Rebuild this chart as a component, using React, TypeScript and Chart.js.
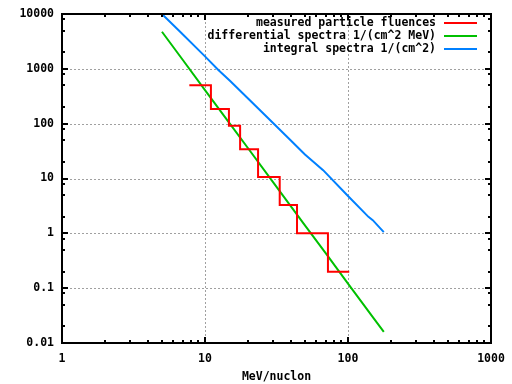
import React, { useEffect, useRef } from 'react';
import { Chart, registerables } from 'chart.js';

Chart.register(...registerables);

// Measured particle fluences (histogram steps): bin left edges, last entry is right edge
const fluenceEnergy = [7.77, 11.0, 14.7, 17.6, 23.5, 33.3, 44.0, 72.4, 102];
const fluenceValues = [500, 185, 92, 34, 10.6, 3.27, 1.0, 0.2, 0.2];

// Differential spectra
const diffEnergy = [5, 7, 10, 15, 20, 30, 40, 50, 70, 100, 150, 178];
const diffValues = [4750, 1450, 410, 98, 35.6, 8.5, 3.08, 1.4, 0.43, 0.121, 0.029, 0.0159];

// Integral spectra
const intEnergy = [5, 6.7, 10, 12.4, 15, 20, 27, 40, 50, 67, 100, 139, 149, 178];
const intValues = [10000, 4750, 1690, 951, 600, 288, 134, 48.8, 27.5, 14.2, 4.8, 2.0, 1.74, 1.05];

const seriesNames = [
  'measured particle fluences',
  'differential spectra 1/(cm^2 MeV)',
  'integral spectra 1/(cm^2)',
];
const seriesColors = ['#ff0000', '#00c000', '#0080ff'];

const xTickValues = [1, 10, 100, 1000];
const xTickLabels = ['1', '10', '100', '1000'];
const yTickValues = [0.01, 0.1, 1, 10, 100, 1000, 10000];
const yTickLabels = ['0.01', '0.1', '1', '10', '100', '1000', '10000'];
const xMinorFactors = [2, 3, 4, 5, 6, 7, 8, 9];
const yMinorFactors = [2, 5, 8];
const xTitle = 'MeV/nuclon';

const FONT_FAMILY = '"DejaVu Sans Mono", "Liberation Mono", monospace';
const FONT_SIZE = 11.5;

const gnuplotPlugin = {
  id: 'gnuplotFrame',
  beforeDatasetsDraw(chart: any) {
    const { ctx, chartArea: a, scales } = chart;
    const x = scales.x;
    const y = scales.y;
    ctx.save();
    ctx.strokeStyle = '#a0a0a0';
    ctx.lineWidth = 1;
    ctx.setLineDash([2, 2]);
    for (const v of xTickValues) {
      const px = Math.round(x.getPixelForValue(v)) + 0.5;
      if (px <= a.left + 2 || px >= a.right - 2) continue;
      ctx.beginPath();
      ctx.moveTo(px, a.top);
      ctx.lineTo(px, a.bottom);
      ctx.stroke();
    }
    for (const v of yTickValues) {
      const py = Math.round(y.getPixelForValue(v)) + 0.5;
      if (py <= a.top + 2 || py >= a.bottom - 2) continue;
      ctx.beginPath();
      ctx.moveTo(a.left, py);
      ctx.lineTo(a.right, py);
      ctx.stroke();
    }
    ctx.restore();
  },
  afterDatasetsDraw(chart: any) {
    const { ctx, chartArea: a, scales } = chart;
    const x = scales.x;
    const y = scales.y;
    ctx.save();
    ctx.setLineDash([]);
    ctx.strokeStyle = '#000';
    ctx.lineWidth = 2;
    ctx.strokeRect(a.left, a.top, a.right - a.left, a.bottom - a.top);

    const major = 6;
    const minor = 3;
    const xTick = (v: number, len: number) => {
      const px = Math.round(x.getPixelForValue(v));
      ctx.beginPath();
      ctx.moveTo(px, a.bottom);
      ctx.lineTo(px, a.bottom - len);
      ctx.moveTo(px, a.top);
      ctx.lineTo(px, a.top + len);
      ctx.stroke();
    };
    const yTick = (v: number, len: number) => {
      const py = Math.round(y.getPixelForValue(v));
      ctx.beginPath();
      ctx.moveTo(a.left, py);
      ctx.lineTo(a.left + len, py);
      ctx.moveTo(a.right, py);
      ctx.lineTo(a.right - len, py);
      ctx.stroke();
    };
    xTickValues.forEach((v, i) => {
      xTick(v, major);
      if (i < xTickValues.length - 1) xMinorFactors.forEach((f) => xTick(v * f, minor));
    });
    yTickValues.forEach((v, i) => {
      yTick(v, major);
      if (i < yTickValues.length - 1) yMinorFactors.forEach((f) => yTick(v * f, minor));
    });

    // key
    ctx.font = `bold ${FONT_SIZE}px ${FONT_FAMILY}`;
    ctx.textAlign = 'right';
    ctx.textBaseline = 'middle';
    ctx.fillStyle = '#000';
    const rows = [23, 35.8, 48.6];
    seriesNames.forEach((name, i) => {
      const ry = rows[i];
      ctx.fillText(name, 436, ry);
      ctx.strokeStyle = seriesColors[i];
      ctx.lineWidth = 2;
      ctx.beginPath();
      ctx.moveTo(444, Math.round(ry));
      ctx.lineTo(477, Math.round(ry));
      ctx.stroke();
    });
    ctx.restore();
  },
};

export default function App() {
  const canvasRef = useRef<HTMLCanvasElement | null>(null);

  useEffect(() => {
    if (!canvasRef.current) return;
    const font = { family: FONT_FAMILY, size: FONT_SIZE, weight: 'bold' as const };
    const chart = new Chart(canvasRef.current, {
      type: 'line',
      data: {
        datasets: [
          {
            label: seriesNames[0],
            data: fluenceEnergy.map((e, i) => ({ x: e, y: fluenceValues[i] })),
            borderColor: seriesColors[0],
            borderWidth: 2,
            stepped: 'before',
            pointRadius: 0,
            fill: false,
          },
          {
            label: seriesNames[1],
            data: diffEnergy.map((e, i) => ({ x: e, y: diffValues[i] })),
            borderColor: seriesColors[1],
            borderWidth: 2,
            pointRadius: 0,
            fill: false,
          },
          {
            label: seriesNames[2],
            data: intEnergy.map((e, i) => ({ x: e, y: intValues[i] })),
            borderColor: seriesColors[2],
            borderWidth: 2,
            pointRadius: 0,
            fill: false,
          },
        ],
      },
      options: {
        responsive: false,
        animation: false,
        layout: { padding: { left: 0, right: 21, top: 14, bottom: 0 } },
        plugins: { legend: { display: false }, tooltip: { enabled: false } },
        elements: { line: { tension: 0 } },
        scales: {
          x: {
            type: 'logarithmic',
            min: 1,
            max: 1000,
            afterBuildTicks: (s: any) => {
              s.ticks = xTickValues.map((v) => ({ value: v, major: true }));
            },
            afterFit: (s: any) => {
              s.height = 41;
              s.paddingLeft = 0;
              s.paddingRight = 0;
            },
            ticks: {
              autoSkip: false,
              maxRotation: 0,
              padding: 9,
              color: '#000',
              font,
              callback: (v: any) => xTickLabels[xTickValues.indexOf(Number(v))] ?? '',
            },
            grid: { display: false, drawTicks: false },
            border: { display: false },
            title: { display: true, text: xTitle, color: '#000', font, padding: { top: 0, bottom: 0 } },
          },
          y: {
            type: 'logarithmic',
            min: 0.01,
            max: 10000,
            afterBuildTicks: (s: any) => {
              s.ticks = yTickValues.map((v) => ({ value: v, major: true }));
            },
            afterFit: (s: any) => {
              s.width = 62;
              s.paddingTop = 0;
              s.paddingBottom = 0;
            },
            ticks: {
              autoSkip: false,
              padding: 8,
              color: '#000',
              font,
              callback: (v: any) => {
                const idx = yTickValues.findIndex((t) => Math.abs(Math.log10(t) - Math.log10(Number(v))) < 1e-6);
                return idx >= 0 ? yTickLabels[idx] : '';
              },
            },
            grid: { display: false, drawTicks: false },
            border: { display: false },
          },
        },
      },
      plugins: [gnuplotPlugin],
    } as any);
    return () => chart.destroy();
  }, []);

  return (
    <div style={{ position: 'absolute', left: 0, top: 0, width: 512, height: 384, background: '#fff' }}>
      <canvas ref={canvasRef} width={512} height={384} style={{ display: 'block' }} />
    </div>
  );
}
